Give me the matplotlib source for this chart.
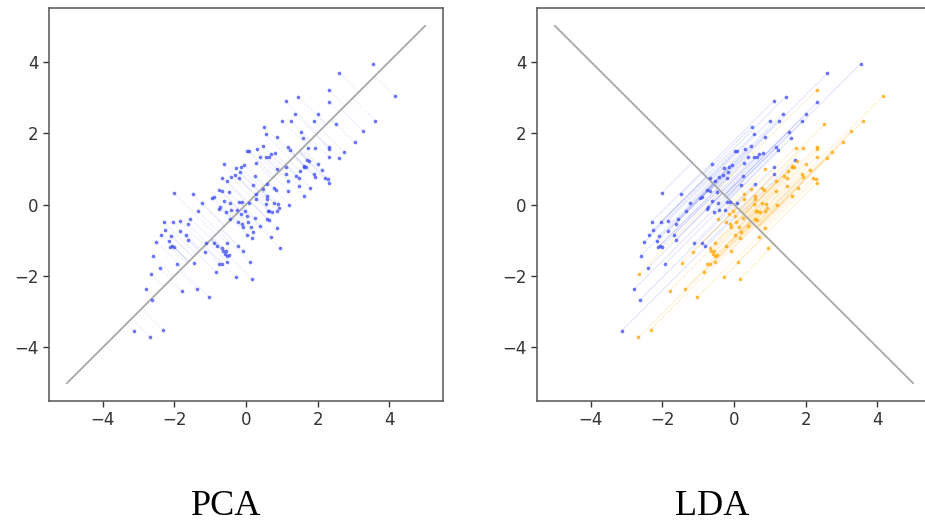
import matplotlib.pyplot as plt
import numpy as np

# Class 1 samples (x, y)
class_a = np.array([
    (0.50, 2.18), (0.55, 1.96), (0.02, 1.51), (0.08, 1.51), (0.30, 1.54), (0.47, 1.63),
    (0.39, 1.34), (0.55, 1.32), (0.64, 1.34), (-0.62, 1.12), (-0.29, 1.03), (-0.15, 1.04),
    (-0.06, 1.11), (0.28, 1.16), (-0.18, 0.90), (-0.31, 0.83), (-0.67, 0.75), (-0.54, 0.67),
    (-0.41, 0.76), (-0.20, 0.75), (0.24, 0.79), (0.19, 0.55), (-2.01, 0.32), (-1.48, 0.28),
    (-0.75, 0.41), (-0.68, 0.37), (-0.48, 0.34), (-0.90, 0.20),
    (3.54, 3.94), (2.61, 3.67), (1.45, 3.02), (1.11, 2.89), (2.32, 2.86), (1.37, 2.54),
    (2.00, 2.52), (1.00, 2.35), (1.25, 2.35), (1.90, 2.33), (1.53, 2.04), (0.87, 1.88),
    (1.59, 1.85), (1.16, 1.60), (1.23, 1.53), (0.70, 1.40), (0.81, 1.43), (1.70, 1.25),
    (1.11, 1.04), (1.12, 0.84), (0.58, 0.58),
    (-0.73, -0.07), (-0.75, -0.12), (-0.62, 0.11), (-0.45, 0.05), (-0.42, -0.14), (-0.20, 0.08),
    (-0.12, 0.08), (0.09, 0.05), (-1.24, 0.05), (-0.96, 0.18), (-1.35, -0.17), (-1.55, -0.40),
    (-0.56, -0.21), (-0.24, -0.14), (-2.30, -0.48), (-2.05, -0.50), (-1.85, -0.46), (-2.25, -0.70),
    (-1.85, -0.75), (-1.63, -0.54), (-2.36, -0.84), (-2.10, -0.87), (-1.68, -0.84), (-2.50, -1.05),
    (-2.15, -1.03), (-2.06, -1.15), (-2.02, -1.19), (-2.11, -1.19), (-1.63, -0.99), (-1.12, -1.08),
    (-0.90, -1.08), (-0.82, -1.15), (-1.92, -1.66), (-2.60, -1.43), (-2.41, -1.78), (-2.78, -2.36),
    (-2.63, -2.67), (-3.14, -3.54),
])

# Class 2 samples (x, y)
class_b = np.array([
    (0.48, 0.44), (0.28, 0.28), (0.58, 0.23),
    (4.15, 3.03), (2.31, 3.21), (2.52, 2.24), (3.61, 2.35), (3.27, 2.05), (3.03, 1.74),
    (1.72, 1.59), (1.93, 1.58), (2.32, 1.62), (2.33, 1.54), (2.74, 1.46), (2.31, 1.34),
    (2.61, 1.30), (1.77, 1.23), (1.63, 1.09), (1.68, 1.04), (2.00, 1.14), (2.12, 0.97),
    (0.87, 1.00), (1.51, 0.93), (1.62, 1.04), (1.89, 0.84), (1.93, 0.78), (2.21, 0.75),
    (2.28, 0.72), (2.31, 0.61), (1.39, 0.81), (1.47, 0.75), (1.16, 0.67), (1.48, 0.53),
    (1.79, 0.46), (0.79, 0.47), (0.83, 0.41), (1.17, 0.39), (1.63, 0.25),
    (0.28, 0.16), (0.58, 0.14), (0.62, -0.17), (0.55, 0.02), (-0.45, -0.40), (-0.22, -0.48),
    (-0.15, -0.26), (-0.03, -0.17), (0.02, -0.31), (-0.12, -0.54), (-0.08, -0.63), (0.06, -0.49),
    (0.13, -0.63), (0.20, -0.77), (0.25, -0.38), (0.16, -0.94), (0.02, -0.85), (0.39, -0.59),
    (0.58, -0.40), (-0.54, -1.07), (-0.68, -1.22), (-0.64, -1.31), (-0.59, -1.38), (-0.52, -1.43),
    (-0.47, -1.41), (-0.56, -1.29), (-0.22, -1.15), (-0.09, -1.29), (-1.15, -1.33), (-0.75, -1.66),
    (-0.66, -1.66), (-0.52, -1.61), (0.11, -1.61), (-0.84, -1.89), (-0.28, -2.03), (0.16, -2.08),
    (-1.46, -1.63), (-2.66, -1.94), (-1.80, -2.41), (-1.36, -2.36), (-1.03, -2.59), (-2.67, -3.71),
    (-2.33, -3.50),
    (0.77, 0.05), (0.90, 0.02), (0.92, -0.10), (0.64, -0.19), (0.72, -0.21), (0.86, -0.17),
    (1.21, 0.00), (0.64, -0.43), (0.86, -0.65), (0.70, -0.90), (0.94, -1.22),
])

pca_dir = np.array([1.0, 1.0]) / np.sqrt(2)
lda_dir = np.array([1.0, -1.0]) / np.sqrt(2)
ticks = [-4, -2, 0, 2, 4]
blue = '#3b4cf5'
orange = '#ffa500'


def project(pts, d):
    return np.outer(pts @ d, d)


def style(ax):
    ax.set_xlim(-5.5, 5.5)
    ax.set_ylim(-5.5, 5.5)
    ax.set_xticks(ticks)
    ax.set_yticks(ticks)
    ax.tick_params(labelsize=12, colors='#333333', width=1.0, length=4)
    for s in ax.spines.values():
        s.set_color('#555555')
        s.set_linewidth(1.1)


def draw(ax, groups, d):
    # projection axis through the origin
    ax.plot([-5 * d[0] * np.sqrt(2), 5 * d[0] * np.sqrt(2)],
            [-5 * d[1] * np.sqrt(2), 5 * d[1] * np.sqrt(2)],
            color='#a8a8a8', lw=1.3, zorder=1)
    for pts, col, a in groups:
        proj = project(pts, d)
        for p, q in zip(pts, proj):
            ax.plot([p[0], q[0]], [p[1], q[1]], color=col, lw=0.7, alpha=a, zorder=0)
        ax.scatter(pts[:, 0], pts[:, 1], s=7, color=col, alpha=0.75, lw=0, zorder=3)


fig = plt.figure(figsize=(9.25, 5.23), dpi=100)
ax1 = fig.add_axes([49 / 925, 122 / 523, 394 / 925, 393 / 523])
ax2 = fig.add_axes([537 / 925, 122 / 523, 394 / 925, 393 / 523])

all_pts = np.vstack([class_a, class_b])
draw(ax1, [(all_pts, blue, 0.08)], pca_dir)
draw(ax2, [(class_a, blue, 0.16), (class_b, orange, 0.18)], lda_dir)
style(ax1)
style(ax2)

fig.text(226 / 925, 8 / 523, 'PCA', family='Liberation Serif', fontsize=26,
         ha='center', va='baseline')
fig.text(712 / 925, 8 / 523, 'LDA', family='Liberation Serif', fontsize=26,
         ha='center', va='baseline')

fig.savefig('out.png', dpi=100)
